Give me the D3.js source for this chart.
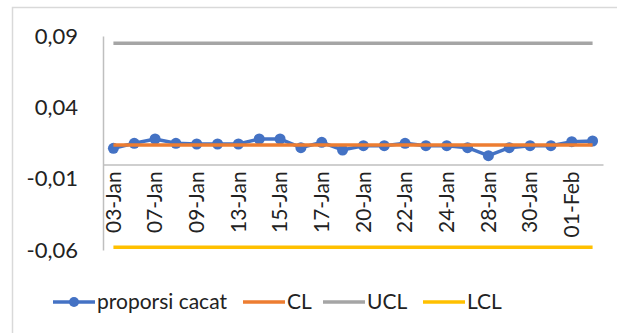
<!DOCTYPE html>
<html><head><meta charset="utf-8">
<script src="https://cdn.jsdelivr.net/npm/d3@7"></script>
<style>body{margin:0;background:#fff;}svg{display:block;}</style>
</head><body>
<svg id="c" width="617" height="333"></svg>
<script>
const dates = ["03-Jan","04-Jan","07-Jan","08-Jan","09-Jan","10-Jan","13-Jan","14-Jan","15-Jan","16-Jan","17-Jan","18-Jan",
  "20-Jan","21-Jan","22-Jan","23-Jan","24-Jan","25-Jan","28-Jan","29-Jan","30-Jan","31-Jan","01-Feb","02-Feb"];
const proporsiCacat = [0.0113,0.0148,0.0178,0.0148,0.0143,0.0143,0.0143,0.0178,0.0178,0.0117,0.0155,0.0101,
  0.0131,0.0131,0.0148,0.0131,0.0131,0.0117,0.0061,0.0117,0.0131,0.0131,0.0159,0.0164];
const CL = 0.0136, UCL = 0.085, LCL = -0.058;
const yTicks = [0.09, 0.04, -0.01, -0.06];
const legendItems = ["proporsi cacat","CL","UCL","LCL"];
const colors = {"proporsi cacat":"#4472C4", CL:"#ED7D31", UCL:"#A5A5A5", LCL:"#FFC000"};

const svg = d3.select("#c");
const font = "Lato, 'Open Sans', sans-serif";

// frame
svg.append("path").attr("d","M12.5,333 V7.5 H617").attr("fill","none").attr("stroke","#d9d9d9").attr("stroke-width",1.5);

const x = d3.scaleBand().domain(dates).range([103,603]);
const y = d3.scaleLinear().domain([-0.06,0.09]).range([250,36]);
const cx = d => x(d) + x.bandwidth()/2;

// y axis
const yAxis = d3.axisLeft(y).tickValues(yTicks).tickSize(0).tickPadding(25)
  .tickFormat(d => d3.format(".2f")(d).replace("\u2212", "-").replace(".", ","));
const ga = svg.append("g").attr("transform","translate(103,0)").call(yAxis);
ga.select(".domain").attr("stroke","#bfbfbf").attr("stroke-width",1.5);
ga.selectAll("text").attr("font-family",font).attr("font-size",22).attr("fill","#222");

// x axis at zero
const xAxis = d3.axisBottom(x).tickValues(dates.filter((d,i)=>i%2===0)).tickSize(0).tickSizeOuter(0);
const gx = svg.append("g").attr("transform",`translate(0,${y(0)})`).call(xAxis);
gx.select(".domain").attr("stroke","#bfbfbf").attr("stroke-width",1.5);
gx.selectAll("text").attr("font-family",font).attr("font-size",21).attr("fill","#222")
  .attr("transform","rotate(-90)").attr("text-anchor","end").attr("dy","0.35em")
  .attr("x",-7).attr("y",0);

// control lines
const hline = (v,c) => svg.append("line").attr("x1",cx(dates[0])).attr("x2",cx(dates[dates.length-1]))
  .attr("y1",y(v)).attr("y2",y(v)).attr("stroke",c).attr("stroke-width",3.5);
hline(UCL, colors.UCL);
hline(LCL, colors.LCL);

// data line
const line = d3.line().x((d,i)=>cx(dates[i])).y(d=>y(d));
svg.append("path").datum(proporsiCacat).attr("d",line).attr("fill","none")
  .attr("stroke",colors["proporsi cacat"]).attr("stroke-width",3.5);
svg.selectAll("circle.pt").data(proporsiCacat).join("circle").attr("class","pt")
  .attr("cx",(d,i)=>cx(dates[i])).attr("cy",d=>y(d)).attr("r",5.5).attr("fill",colors["proporsi cacat"]);
hline(CL, colors.CL);

// legend
const legX = [53,243,323,423];
const lg = svg.append("g");
legendItems.forEach((k,i)=>{
  const g = lg.append("g").attr("transform",`translate(${legX[i]},302)`);
  g.append("line").attr("x1",0).attr("x2",42).attr("stroke",colors[k]).attr("stroke-width",3.5);
  if(i===0) g.append("circle").attr("cx",21).attr("r",5).attr("fill",colors[k]);
  g.append("text").attr("x",44).attr("dy","0.35em").attr("font-family",font).attr("font-size",21)
    .attr("fill","#222").text(k);
});
</script>
</body></html>
